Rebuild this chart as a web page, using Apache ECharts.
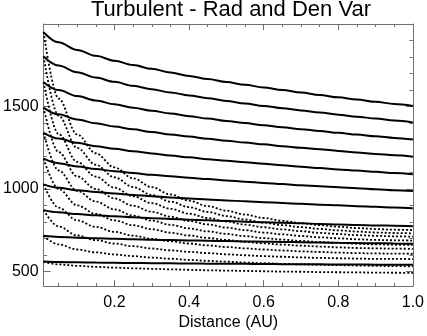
<!DOCTYPE html>
<html>
<head>
<meta charset="utf-8">
<script src="https://cdn.jsdelivr.net/npm/echarts@6/dist/echarts.min.js"></script>
<style>
html, body { margin: 0; padding: 0; background: #fff; }
#chart { width: 427px; height: 336px; }
</style>
</head>
<body>
<div id="chart"></div>
<script>
// distance samples (AU), shared by every curve
var distance = [0.01, 0.05, 0.1, 0.15, 0.2, 0.25, 0.3, 0.35, 0.4, 0.45, 0.5,
                0.55, 0.6, 0.65, 0.7, 0.75, 0.8, 0.85, 0.9, 0.95, 1.0];

// solid curves, top to bottom
var solid1  = [1950, 1889, 1843, 1807, 1777, 1751, 1728, 1706, 1685, 1666, 1648, 1631, 1615, 1599, 1584, 1569, 1555, 1542, 1528, 1515, 1503];
var solid2  = [1803, 1748, 1707, 1675, 1649, 1625, 1604, 1585, 1567, 1550, 1533, 1518, 1503, 1489, 1476, 1463, 1450, 1438, 1426, 1415, 1403];
var solid3  = [1647, 1599, 1563, 1536, 1513, 1492, 1474, 1457, 1441, 1426, 1412, 1399, 1386, 1374, 1362, 1351, 1340, 1329, 1319, 1309, 1299];
var solid4  = [1493, 1452, 1421, 1398, 1378, 1361, 1345, 1330, 1317, 1304, 1292, 1281, 1270, 1259, 1249, 1240, 1230, 1221, 1212, 1204, 1195];
var solid5  = [1339, 1305, 1279, 1259, 1243, 1228, 1215, 1202, 1191, 1180, 1170, 1161, 1152, 1143, 1134, 1126, 1118, 1111, 1103, 1096, 1089];
var solid6  = [1183, 1156, 1136, 1120, 1107, 1096, 1085, 1076, 1067, 1059, 1051, 1043, 1036, 1029, 1022, 1016, 1010, 1004, 998, 992, 987];
var solid7  = [1027, 1007, 992, 981, 971, 963, 955, 948, 942, 936, 930, 924, 919, 914, 909, 904, 900, 895, 891, 887, 883];
var solid8  = [871, 858, 847, 840, 833, 827, 822, 817, 813, 809, 805, 801, 797, 794, 791, 787, 784, 781, 778, 776, 773];
var solid9  = [715, 708, 704, 700, 697, 694, 691, 689, 687, 685, 683, 681, 679, 678, 676, 674, 673, 671, 670, 669, 667];
var solid10 = [559, 556, 554, 553, 551, 550, 549, 548, 547, 546, 546, 545, 544, 543, 543, 542, 541, 541, 540, 540, 539];

// dotted curves, top to bottom
var dotted1  = [1950, 1548, 1330, 1216, 1130, 1064, 1010, 966, 928, 895, 868, 844, 823, 806, 792, 780, 770, 762, 756, 752, 750];
var dotted2  = [1803, 1444, 1248, 1146, 1070, 1011, 963, 923, 889, 860, 835, 814, 795, 780, 768, 757, 748, 741, 735, 732, 730];
var dotted3  = [1647, 1333, 1163, 1074, 1007, 955, 913, 879, 849, 823, 802, 783, 767, 754, 743, 733, 726, 719, 715, 712, 710];
var dotted4  = [1493, 1223, 1076, 999, 942, 897, 861, 831, 805, 784, 765, 749, 735, 724, 714, 706, 700, 694, 690, 688, 686];
var dotted5  = [1339, 1112, 988, 923, 875, 838, 807, 782, 760, 742, 727, 713, 701, 692, 684, 677, 672, 667, 663, 661, 660];
var dotted6  = [1183, 1000, 900, 848, 809, 779, 755, 734, 717, 702, 690, 679, 669, 662, 655, 650, 645, 641, 639, 637, 636];
var dotted7  = [1027, 886, 809, 769, 739, 716, 697, 682, 668, 657, 647, 639, 632, 626, 621, 617, 613, 610, 608, 607, 606];
var dotted8  = [871, 772, 717, 689, 668, 652, 638, 627, 618, 610, 603, 597, 592, 588, 584, 581, 579, 577, 575, 575, 574];
var dotted9  = [715, 663, 632, 615, 602, 592, 583, 576, 569, 563, 558, 553, 549, 545, 542, 539, 537, 535, 533, 531, 530];
var dotted10 = [559, 542, 533, 527, 522, 518, 515, 512, 509, 506, 504, 502, 500, 498, 497, 495, 494, 493, 492, 491, 490];

// ticks
var xMajorTicks = [0.2, 0.4, 0.6, 0.8, 1.0];
var xMinorTicks = [0.05, 0.1, 0.15, 0.25, 0.3, 0.35, 0.45, 0.5, 0.55, 0.65, 0.7, 0.75, 0.85, 0.9, 0.95];
var yMajorTicks = [500, 1000, 1500];
var yMinorTicks = [600, 700, 800, 900, 1100, 1200, 1300, 1400, 1600, 1700, 1800, 1900];

var X_MIN = 0.01, X_MAX = 1.0;
var Y_MIN = 410, Y_MAX = 2000;

var FONT = 'Liberation Sans, Arial, Helvetica, sans-serif';
var AXIS_COLOR = '#707070';

var solids = [solid1, solid2, solid3, solid4, solid5, solid6, solid7, solid8, solid9, solid10];
var dotteds = [dotted1, dotted2, dotted3, dotted4, dotted5, dotted6, dotted7, dotted8, dotted9, dotted10];

function pairs(values) {
    return distance.map(function (d, i) { return [d, values[i]]; });
}

// one axis per side and tick size, all sharing the same range
function tickAxis(kind, pos, ticks, len, showLine) {
    return {
        type: 'value',
        position: pos,
        min: kind === 'x' ? X_MIN : Y_MIN,
        max: kind === 'x' ? X_MAX : Y_MAX,
        axisLine: { show: showLine, onZero: false, lineStyle: { color: AXIS_COLOR, width: 1 } },
        axisTick: { show: true, inside: true, length: len, customValues: ticks, lineStyle: { color: AXIS_COLOR, width: 1 } },
        axisLabel: { show: false },
        splitLine: { show: false }
    };
}

var xMain = tickAxis('x', 'bottom', xMajorTicks, 6, true);
xMain.axisLabel = {
    show: true,
    customValues: xMajorTicks,
    formatter: function (v) { return v.toFixed(1); },
    margin: 8,
    color: '#000',
    fontSize: 16,
    fontFamily: FONT
};
xMain.name = 'Distance (AU)';
xMain.nameLocation = 'middle';
xMain.nameGap = 27;
xMain.nameTextStyle = { color: '#000', fontSize: 16, fontFamily: FONT };

var yMain = tickAxis('y', 'left', yMajorTicks, 7, true);
yMain.axisLabel = {
    show: true,
    customValues: yMajorTicks,
    formatter: function (v) { return String(v); },
    margin: 5,
    color: '#000',
    fontSize: 16,
    fontFamily: FONT
};

var series = [];
dotteds.forEach(function (vals) {
    series.push({
        type: 'line',
        data: pairs(vals),
        xAxisIndex: 0,
        yAxisIndex: 0,
        smooth: 0.35,
        smoothMonotone: 'x',
        showSymbol: false,
        silent: true,
        lineStyle: { color: '#000', width: 1.8, type: [2, 2] }
    });
});
solids.forEach(function (vals) {
    series.push({
        type: 'line',
        data: pairs(vals),
        xAxisIndex: 0,
        yAxisIndex: 0,
        smooth: 0.35,
        smoothMonotone: 'x',
        showSymbol: false,
        silent: true,
        lineStyle: { color: '#000', width: 2 }
    });
});

var myChart = echarts.init(document.getElementById('chart'));
myChart.setOption({
    animation: false,
    backgroundColor: '#fff',
    title: {
        text: 'Turbulent - Rad and Den Var',
        left: 231,
        top: -1,
        padding: 0,
        textAlign: 'center',
        textStyle: { color: '#000', fontSize: 22, fontWeight: 'normal', fontFamily: FONT }
    },
    grid: { left: 42, right: 10, top: 24, bottom: 46, containLabel: false },
    xAxis: [
        xMain,
        tickAxis('x', 'bottom', xMinorTicks, 3, false),
        tickAxis('x', 'top', xMajorTicks, 6, true),
        tickAxis('x', 'top', xMinorTicks, 3, false)
    ],
    yAxis: [
        yMain,
        tickAxis('y', 'left', yMinorTicks, 3.5, false),
        tickAxis('y', 'right', yMajorTicks, 7, true),
        tickAxis('y', 'right', yMinorTicks, 3.5, false)
    ],
    series: series
});
</script>
</body>
</html>
